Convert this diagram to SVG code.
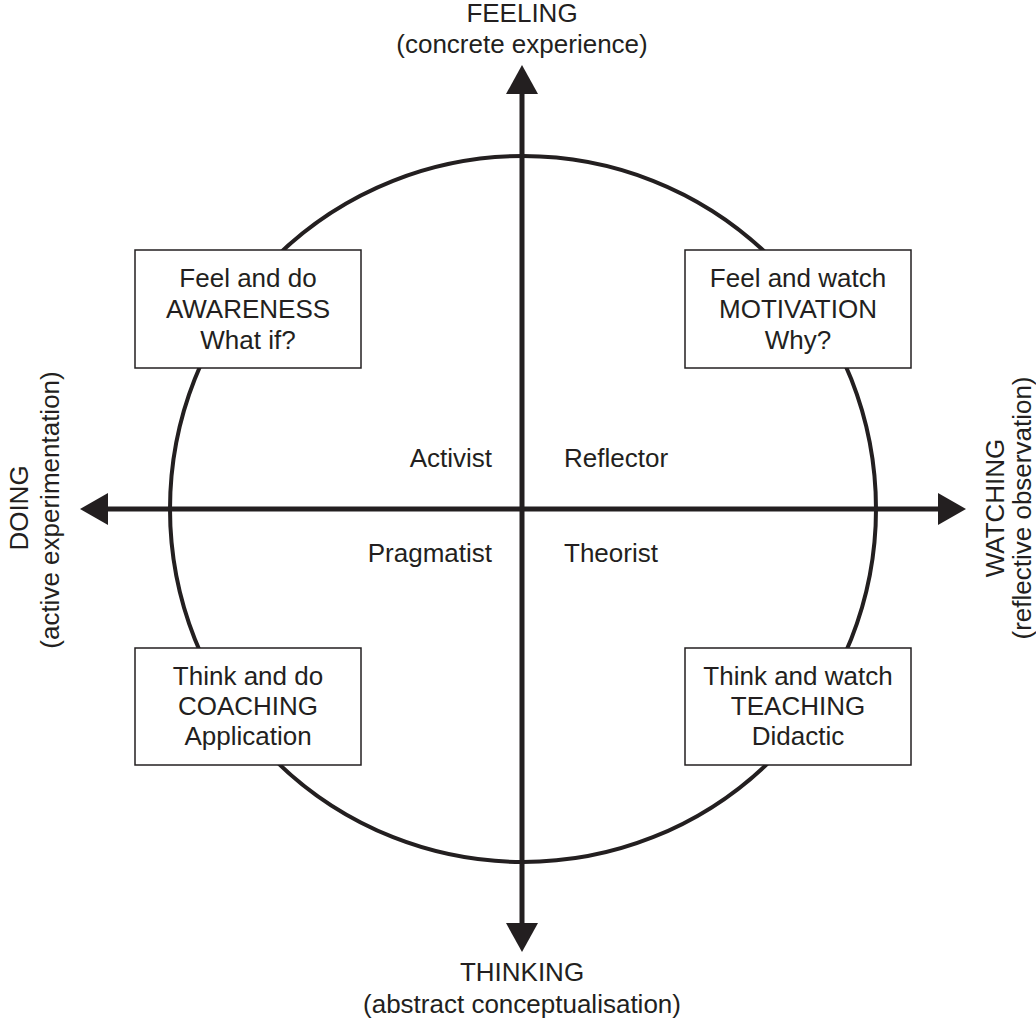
<svg xmlns="http://www.w3.org/2000/svg" width="1036" height="1020" viewBox="0 0 1036 1020">
  <style>
    text { font-family: "Liberation Sans", Arial, sans-serif; font-size: 26px; fill: #231f20; text-anchor: middle; }
    .box { fill: #ffffff; stroke: #231f20; stroke-width: 1.5; }
    .axis { stroke: #231f20; stroke-width: 5; fill: none; }
    .circle { stroke: #231f20; stroke-width: 4; fill: none; }
    .head { fill: #231f20; }
  </style>
  <rect width="1036" height="1020" fill="#ffffff"/>
  <g id="cycle-circle">
    <circle class="circle" cx="523" cy="509" r="353"/>
  </g>
  <g id="connectors">
    <line class="axis" x1="522" y1="92" x2="522" y2="925"/>
    <line class="axis" x1="106" y1="509" x2="940" y2="509"/>
    <polygon class="head" points="522,65 506,94 538,94"/>
    <polygon class="head" points="522,952 506,923 538,923"/>
    <polygon class="head" points="80,509 108,493 108,525"/>
    <polygon class="head" points="966,509 938,493 938,525"/>
  </g>
  <g id="feeling">
    <text x="522" y="22">FEELING</text>
    <text x="522" y="53">(concrete experience)</text>
  </g>
  <g id="thinking">
    <text x="522" y="981">THINKING</text>
    <text x="522" y="1013">(abstract conceptualisation)</text>
  </g>
  <g id="doing">
    <text transform="translate(28,508) rotate(-90)">DOING</text>
    <text transform="translate(59,510) rotate(-90)">(active experimentation)</text>
  </g>
  <g id="watching">
    <text transform="translate(1004,508) rotate(-90)">WATCHING</text>
    <text transform="translate(1031,508) rotate(-90)">(reflective observation)</text>
  </g>
  <g id="box-feel-do">
    <rect class="box" x="135" y="250" width="226" height="118"/>
    <text x="248" y="287">Feel and do</text>
    <text x="248" y="318">AWARENESS</text>
    <text x="248" y="349">What if?</text>
  </g>
  <g id="box-feel-watch">
    <rect class="box" x="685" y="250" width="226" height="118"/>
    <text x="798" y="287">Feel and watch</text>
    <text x="798" y="318">MOTIVATION</text>
    <text x="798" y="349">Why?</text>
  </g>
  <g id="box-think-do">
    <rect class="box" x="135" y="648" width="226" height="117"/>
    <text x="248" y="685">Think and do</text>
    <text x="248" y="715">COACHING</text>
    <text x="248" y="745">Application</text>
  </g>
  <g id="box-think-watch">
    <rect class="box" x="685" y="648" width="226" height="117"/>
    <text x="798" y="685">Think and watch</text>
    <text x="798" y="715">TEACHING</text>
    <text x="798" y="745">Didactic</text>
  </g>
  <g id="activist"><text x="492" y="467" style="text-anchor:end">Activist</text></g>
  <g id="reflector"><text x="564" y="467" style="text-anchor:start">Reflector</text></g>
  <g id="pragmatist"><text x="492" y="562" style="text-anchor:end">Pragmatist</text></g>
  <g id="theorist"><text x="564" y="562" style="text-anchor:start">Theorist</text></g>
</svg>
